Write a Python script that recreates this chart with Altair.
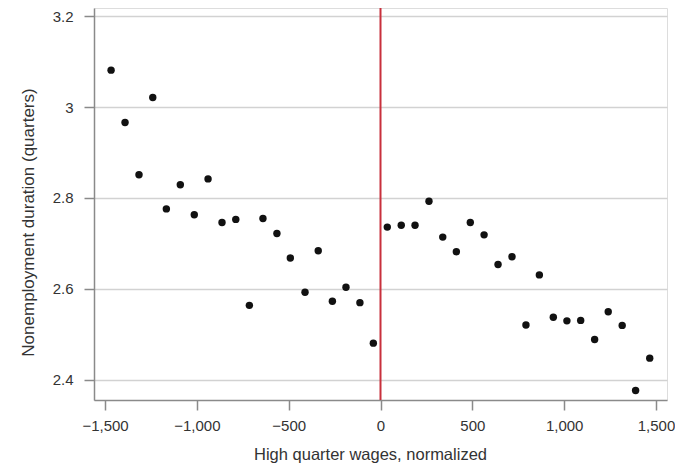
import altair as alt
import pandas as pd

# High quarter wages (normalized), bin centers
wages_left = [-1467, -1391, -1315, -1240, -1166, -1090, -1014, -939, -863, -788,
              -714, -640, -564, -491, -411, -339, -262, -188, -112, -39]
dur_left = [3.081, 2.966, 2.851, 3.021, 2.776, 2.829, 2.763, 2.842, 2.746, 2.753,
            2.564, 2.755, 2.722, 2.668, 2.593, 2.684, 2.573, 2.604, 2.570, 2.481]
wages_right = [37, 113, 188, 264, 339, 413, 489, 564, 640, 716,
               792, 865, 941, 1015, 1090, 1166, 1240, 1316, 1389, 1466]
dur_right = [2.736, 2.740, 2.740, 2.793, 2.714, 2.682, 2.746, 2.719, 2.654, 2.671,
             2.521, 2.631, 2.538, 2.530, 2.531, 2.489, 2.550, 2.520, 2.377, 2.448]
cutoff = [0]
x_ticks = [-1500, -1000, -500, 0, 500, 1000, 1500]
y_ticks = [2.4, 2.6, 2.8, 3.0, 3.2]

df = pd.DataFrame({"wage": wages_left + wages_right, "dur": dur_left + dur_right})
cut_df = pd.DataFrame({"x": cutoff})

FONT = "Liberation Sans"
TEXT = "#333333"
AXIS = "#8a8a8a"

x_scale = alt.Scale(domain=[-1560, 1560], nice=False, zero=False)
y_scale = alt.Scale(domain=[2.356, 3.2176], nice=False, zero=False)

x_axis = alt.Axis(values=x_ticks, format=",d", grid=False, tickSize=10,
                  tickColor=AXIS, tickWidth=1.5, domainColor=AXIS, domainWidth=1.5,
                  labelFont=FONT, labelFontSize=15, labelColor=TEXT, labelPadding=8,
                  title="High quarter wages, normalized", titleFont=FONT,
                  titleFontSize=16.5, titleFontWeight="normal", titleColor=TEXT,
                  titleX=276, titleY=59, titleBaseline="alphabetic")
y_axis = alt.Axis(values=y_ticks, format="~g", grid=True, gridColor="#d2d2d2",
                  gridWidth=1.5, tickSize=10, tickColor=AXIS, tickWidth=1.5,
                  domainColor=AXIS, domainWidth=1.5, labelFont=FONT,
                  labelFontSize=15, labelColor=TEXT, labelPadding=11,
                  title="Nonemployment duration (quarters)", titleFont=FONT,
                  titleFontSize=17, titleFontWeight="normal", titleColor=TEXT,
                  titleX=-57, titleY=214, titleBaseline="bottom")

points = alt.Chart(df).mark_circle(size=55, color="#111111", opacity=1).encode(
    x=alt.X("wage:Q", scale=x_scale, axis=x_axis),
    y=alt.Y("dur:Q", scale=y_scale, axis=y_axis),
)

rule = alt.Chart(cut_df).mark_rule(color="#c8303c", strokeWidth=2).encode(
    x=alt.X("x:Q", scale=x_scale),
)

chart = alt.layer(rule, points).properties(
    width=573, height=392,
    autosize=alt.AutoSizeParams(type="none"),
    padding={"left": 86, "top": 0, "right": 8, "bottom": 64},
).configure_view(stroke=None).configure(background="white")

chart.save("out.html", embed_options={"renderer": "svg", "actions": False})
